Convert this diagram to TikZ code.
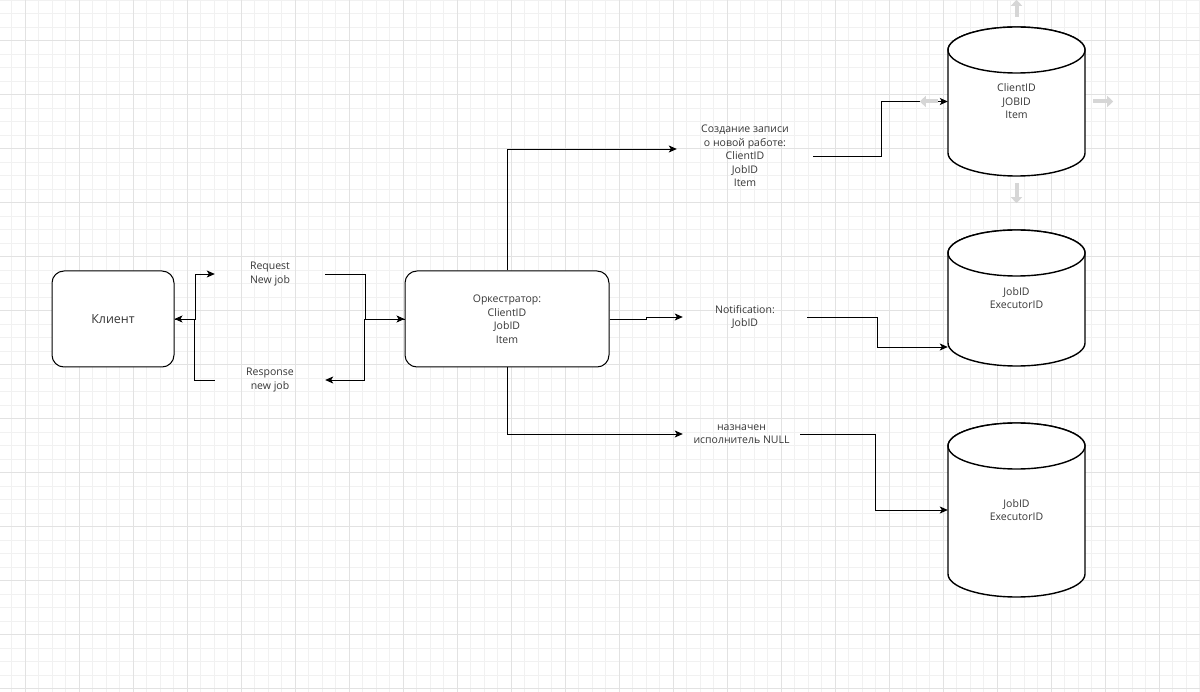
\documentclass[tikz,border=0pt]{standalone}
\usepackage{fontspec}
\setmainfont{Open Sans}
\usetikzlibrary{arrows.meta}
\definecolor{gridminor}{RGB}{241,241,241}
\definecolor{gridmajor}{RGB}{226,226,226}
\definecolor{txt}{RGB}{55,55,55}
\definecolor{hovergray}{RGB}{214,214,214}

\begin{document}
\begin{tikzpicture}[x=1pt,y=-1pt,
  every node/.style={font=\fontsize{10.5}{13.5}\selectfont,text=txt,align=center,inner sep=0pt},
  box/.style={draw,line width=1pt,rounded corners=12pt,fill=white,minimum width=122pt,minimum height=96pt},
  lbl/.style={minimum height=20pt},
  dbtxt/.style={minimum width=137pt},
  cyl/.style={draw,fill=white,line width=1.4pt},
  conn/.style={-{Stealth[length=8pt,width=7pt,inset=2pt]},line width=0.9pt},
  hover/.style={-{Triangle[length=6pt,width=11pt]},line width=4pt,hovergray}]
\useasboundingbox (0,0) rectangle (1200,692);
\fill[white] (0,0) rectangle (1200,692);
% grid
\foreach \i in {0,...,88} \draw[gridminor,line width=0.8pt] ({11.5+13.5*\i},0) -- ++(0,692);
\foreach \i in {0,...,51} \draw[gridminor,line width=0.8pt] (0,{13.5*\i}) -- ++(1200,0);
\foreach \i in {0,...,21} \draw[gridmajor,line width=0.8pt] ({25+54*\i},0) -- ++(0,692);
\foreach \i in {0,...,12} \draw[gridmajor,line width=0.8pt] (0,{40.5+54*\i}) -- ++(1200,0);

% databases
\foreach \t/\b in {27/176,230/366,423/597}{
  \draw[cyl] (948,{\t+23}) -- (948,{\b-23}) arc[start angle=180,end angle=360,x radius=68.5pt,y radius=23pt]
    -- (1085,{\t+23}) arc[start angle=0,end angle=180,x radius=68.5pt,y radius=23pt] -- cycle;
  \draw[cyl] (1016.5,{\t+23}) ellipse[x radius=68.5pt,y radius=23pt];
}
\node[dbtxt,minimum height=149pt] (dbA) at (1016.5,101.5) {ClientID\\JOBID\\Item};
\node[dbtxt,minimum height=136pt] (dbB) at (1016.5,298) {JobID\\ExecutorID};
\node[dbtxt,minimum height=174pt] (dbC) at (1016.5,510) {JobID\\ExecutorID};

\node[box,font=\fontsize{12.5}{15}\selectfont] (client) at (113,319) {Клиент};
\node[box,minimum width=204pt] (orch) at (507,319) {Оркестратор:\\ClientID\\JobID\\Item};
\node[lbl,minimum width=110pt] (req) at (270,274) {Request\\New job};
\node[lbl,minimum width=110pt] (resp) at (270,380) {Response\\new job};
\node[lbl,minimum width=136pt] (create) at (745,156) {Создание записи\\о новой работе:\\ClientID\\JobID\\Item};
\node[lbl,minimum width=124pt] (notif) at (745,317) {Notification:\\JobID};
\node[lbl,minimum width=117pt] (assign) at (741.5,434) {назначен\\исполнитель NULL};

% client <-> orchestrator
\draw[conn] (client.east) -- ++(21,0) |- (req.west);
\draw[conn] (resp.west) -- ++(-20,0) |- (client.east);
\draw[conn] (req.east) -- ++(40,0) |- (orch.west);
\draw[conn] (orch.west) -- ++(-40,0) |- (resp.east);

% orchestrator -> records
\draw[conn] (orch.north) |- ([yshift=7pt]create.west);
\draw[conn] (orch.east) -- ++(37,0) |- (notif.west);
\draw[conn] (orch.south) |- (assign.west);
\draw[conn] (create.east) -- ++(68,0) |- (dbA.west);
\draw[conn] (notif.east) -- ++(70,0) |- ([yshift=-49pt]dbB.west);
\draw[conn] (assign.east) -- ++(75,0) |- (dbC.west);

% hover arrows round the first database
\draw[hover] ([yshift=10pt]dbA.north) -- ++(0,-17);
\draw[hover] ([yshift=-7pt]dbA.south) -- ++(0,20);
\draw[hover] ([xshift=-10pt]dbA.west) -- ++(-18,0);
\draw[hover] ([xshift=8pt]dbA.east) -- ++(20,0);
\end{tikzpicture}
\end{document}
